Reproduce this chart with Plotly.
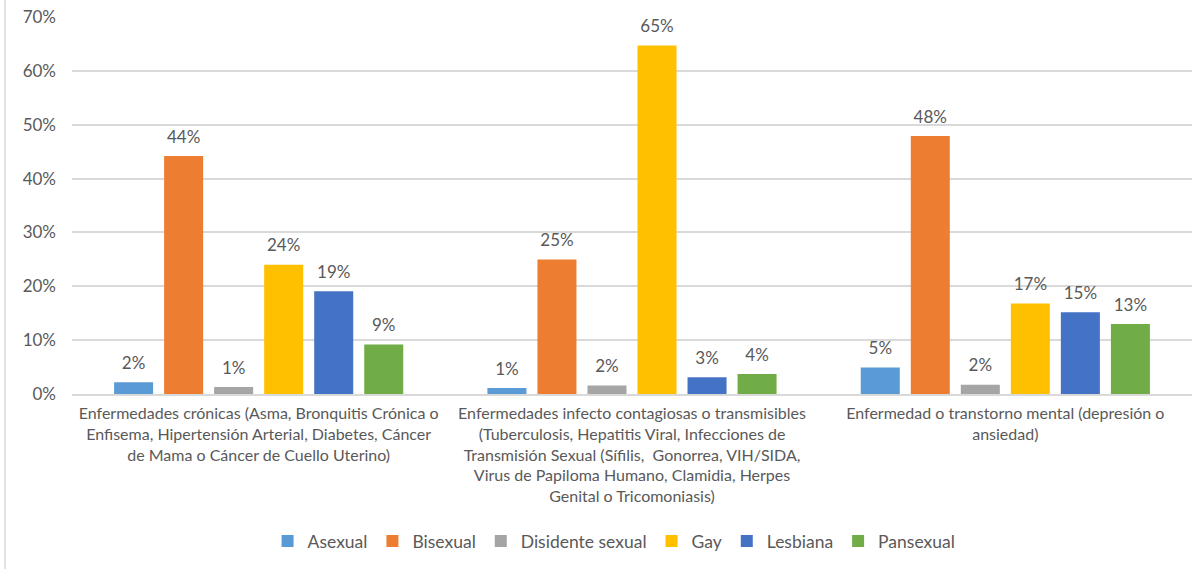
import plotly.graph_objects as go

categories = [
    "Enfermedades crónicas (Asma, Bronquitis Crónica o<br>Enfisema, Hipertensión Arterial, Diabetes, Cáncer<br>de Mama o Cáncer de Cuello Uterino)",
    "Enfermedades infecto contagiosas o transmisibles<br>(Tuberculosis, Hepatitis Viral, Infecciones de<br>Transmisión Sexual (Sífilis,  Gonorrea, VIH/SIDA,<br>Virus de Papiloma Humano, Clamidia, Herpes<br>Genital o Tricomoniasis)",
    "Enfermedad o transtorno mental (depresión o<br>ansiedad)",
]
series_names = ["Asexual", "Bisexual", "Disidente sexual", "Gay", "Lesbiana", "Pansexual"]
asexual = [0.022, 0.011, 0.049]
bisexual = [0.442, 0.250, 0.479]
disidente = [0.013, 0.016, 0.017]
gay = [0.240, 0.647, 0.168]
lesbiana = [0.191, 0.031, 0.152]
pansexual = [0.092, 0.037, 0.130]
colors = ["#5B9BD5", "#ED7D31", "#A5A5A5", "#FFC000", "#4472C4", "#70AD47"]
y_ticks = [0, 0.1, 0.2, 0.3, 0.4, 0.5, 0.6, 0.7]

values = [asexual, bisexual, disidente, gay, lesbiana, pansexual]
FONT = "Lato, Open Sans, sans-serif"
TXT = "#595959"
GAP = 0.196

fig = go.Figure()
for name, vals, col in zip(series_names, values, colors):
    fig.add_trace(go.Bar(
        x=categories, y=vals, name=name, marker_color=col, marker_line_width=0,
        hoverinfo="skip",
    ))
# data labels (invisible markers push the text above the bar tops)
for name, vals in zip(series_names, values):
    fig.add_trace(go.Scatter(
        x=categories, y=vals, mode="markers+text", showlegend=False,
        marker=dict(size=13, opacity=0), texttemplate="%{y:.0%}",
        textposition="top center", cliponaxis=False, hoverinfo="skip",
        textfont=dict(family=FONT, size=17, color=TXT),
    ))

fig.update_layout(
    width=1194, height=569,
    margin=dict(l=72, r=2, t=17, b=175),
    paper_bgcolor="white", plot_bgcolor="white",
    barmode="group", bargap=GAP, bargroupgap=0.22,
    scattermode="group", scattergap=GAP,
    font=dict(family=FONT, color=TXT),
    legend=dict(orientation="h", x=0.484, xanchor="center", y=-0.39, yanchor="middle",
                font=dict(size=17.5, color=TXT), itemwidth=30, traceorder="normal"),
)
fig.update_yaxes(range=[0, 0.7001], tickvals=y_ticks, tickformat=".0%",
                 gridcolor="#D9D9D9", gridwidth=1.5, zeroline=False,
                 tickfont=dict(size=17, color=TXT), ticklabelstandoff=15,
                 ticklabeloverflow="allow", showline=False, automargin=False)
fig.update_xaxes(showline=True, linecolor="#D9D9D9", linewidth=1.5,
                 tickfont=dict(size=16, color=TXT), ticks="", ticklabelstandoff=4,
                 tickangle=0, automargin=False)
fig.add_shape(type="line", xref="paper", yref="paper", x0=-0.0598, x1=-0.0598,
              y0=-0.464, y1=1.045, line=dict(color="#D9D9D9", width=1.5))

fig.write_html("out.html", config={"displayModeBar": False},
               post_script="document.body.style.margin='0';document.body.style.overflow='hidden';")
